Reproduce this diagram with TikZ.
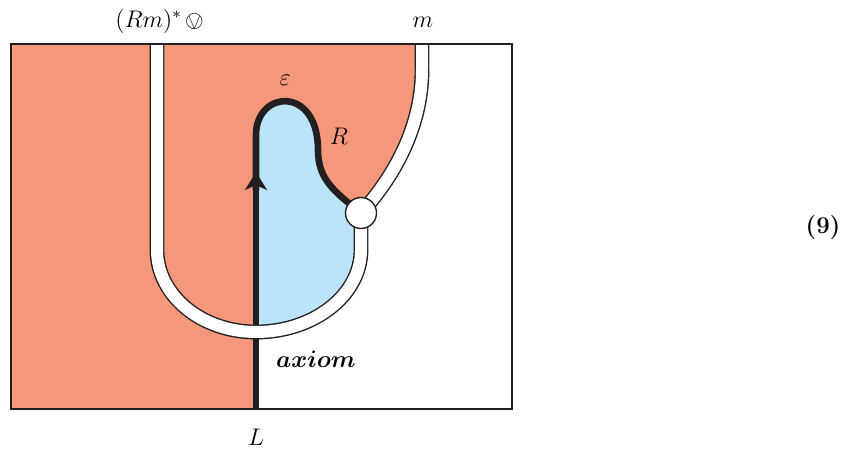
\documentclass[tikz,border=0pt]{standalone}
\usepackage{amsmath}
\usepackage{bm}
\usepackage{stmaryrd}
\usetikzlibrary{arrows.meta}
\definecolor{salmon}{RGB}{244,151,122}
\definecolor{skyfill}{RGB}{186,228,248}
\definecolor{ink}{RGB}{35,31,32}

\begin{document}
\begin{tikzpicture}[x=0.5pt, y=-0.5pt, every node/.style={font=\large},
    tube/.style={draw=ink, line width=0.7pt, double=white, double distance=6pt},
    wire/.style={draw=ink, line width=3.3pt},
    vertex/.style={draw=ink, circle, fill=white, line width=0.7pt, minimum size=15.5pt, inner sep=0pt}]
  \useasboundingbox (0,0) rectangle (851,456);

  \coordinate (tl) at (157,44);
  \coordinate (tr) at (422,44);
  \coordinate (bot) at (256,409);
  \coordinate (v) at (361,213);

  % regions
  \fill[salmon] (11,44) rectangle (512,409);
  \fill[white] (bot) -- (256,332) .. controls (314,332) and (361,295) .. (361,250) -- (v)
    .. controls (400,170) and (422,120) .. (422,70) -- (tr) -- (512,44) -- (512,409) -- cycle;
  \fill[skyfill] (256,332) -- (256,135) .. controls (256,90) and (318,85) .. (318,150)
    .. controls (318,180) and (335,192) .. (v) -- (361,250) .. controls (361,295) and (314,332) .. (256,332) -- cycle;

  % the wire L ... R
  \draw[wire, -{Stealth[length=9pt, width=11pt, inset=2.5pt]}] (bot) -- (256,172);
  \draw[wire] (256,190) -- (256,135) .. controls (256,90) and (318,85) .. (318,150)
    .. controls (318,180) and (335,192) .. (v);

  % tubes
  \draw[tube] (tl) -- (157,250) .. controls (157,295) and (201,332) .. (256,332)
    .. controls (314,332) and (361,295) .. (361,250) -- (v);
  \draw[tube] (v) .. controls (400,170) and (422,120) .. (422,70) -- (tr);

  \node[vertex] (vtx) at (v) {};

  \draw[ink, line width=1pt] (11,44) rectangle (512,409);

  % labels
  \node[anchor=base] (dual) at (160,27) {$(Rm)^{*}\,\ovee$};
  \node[anchor=base] (mlab) at (423,27) {$m$};
  \node (eps) at (285,80) {$\varepsilon$};
  \node (Rlab) at (339,136) {$R$};
  \node[anchor=base] (ax) at (316,367) {$\boldsymbol{axiom}$};
  \node[anchor=base] (Llab) at (256,445) {$L$};
  \node (eqno) at (823,228) {\textbf{(9)}};
\end{tikzpicture}
\end{document}
